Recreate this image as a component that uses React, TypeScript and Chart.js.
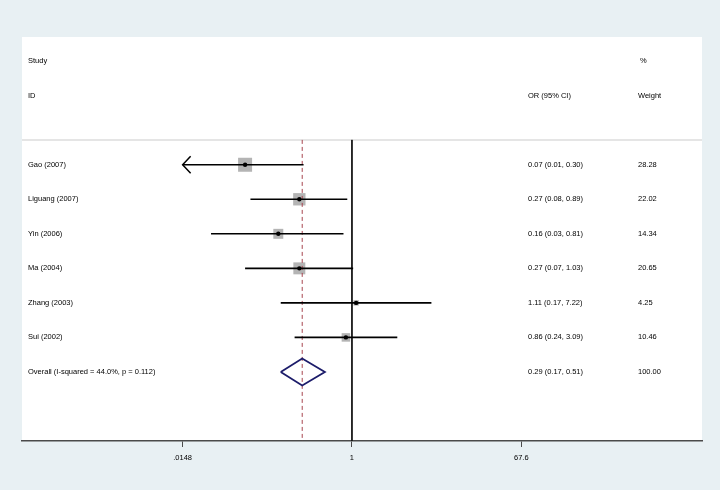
import React, { useEffect, useRef } from 'react';
import { Chart, registerables } from 'chart.js';

Chart.register(...registerables);

// ---- Data ----
const studies = ['Gao (2007)', 'Liguang (2007)', 'Yin (2006)', 'Ma (2004)', 'Zhang (2003)', 'Sui (2002)'];
const oddsRatios = [0.07, 0.27, 0.16, 0.27, 1.11, 0.86];
const ciLower = [0.01, 0.08, 0.03, 0.07, 0.17, 0.24];
const ciUpper = [0.3, 0.89, 0.81, 1.03, 7.22, 3.09];
const weights = [28.28, 22.02, 14.34, 20.65, 4.25, 10.46];

const overallLabel = 'Overall (I-squared = 44.0%, p = 0.112)';
const overallOR = 0.29;
const overallLower = 0.17;
const overallUpper = 0.51;
const overallWeight = 100.0;

const tickValues = [0.0148, 1, 67.6];
const tickLabels = ['.0148', '1', '67.6'];

const headerStudy = ['Study', 'ID'];
const headerEffect = 'OR (95% CI)';
const headerWeight = ['%', 'Weight'];

// ---- Styling / layout constants ----
const FONT = '7.5px "Liberation Sans", Arial, sans-serif';
const TEXT_COLOR = '#000000';
const SQUARE_COLOR = '#b4b4b4';
const DIAMOND_COLOR = '#1c1c6a';
const DASH_COLOR = '#a8454e';
const AXIS_COLOR = '#4a4a4a';

const Y_MIN = -2.7;
const Y_MAX = 9;
const SEP_Y = 0.28;
const overallRow = studies.length + 1;

const fmt = (v: number) => v.toFixed(2);

const forestPlugin = {
  id: 'forestDecor',
  beforeDatasetsDraw(chart: any) {
    const { ctx, chartArea: a, scales } = chart;
    ctx.save();
    ctx.strokeStyle = '#dddddd';
    ctx.lineWidth = 1.5;
    const y = scales.y.getPixelForValue(SEP_Y);
    ctx.beginPath();
    ctx.moveTo(a.left, y);
    ctx.lineTo(a.right, y);
    ctx.stroke();
    ctx.restore();
  },
  beforeDraw(chart: any) {
    const { ctx, chartArea: a } = chart;
    ctx.save();
    ctx.fillStyle = '#ffffff';
    ctx.fillRect(a.left, a.top, a.right - a.left, a.bottom - a.top);
    ctx.restore();
  },
  afterDraw(chart: any) {
    const { ctx, chartArea: a, scales } = chart;
    const xs = scales.x;
    const ys = scales.y;
    ctx.save();
    ctx.font = FONT;
    ctx.fillStyle = TEXT_COLOR;
    ctx.textBaseline = 'middle';
    ctx.textAlign = 'left';
    const xLabel = a.left + 6;
    const xEffect = a.left + 506;
    const xWeight = a.left + 616;

    ctx.fillText(headerStudy[0], xLabel, ys.getPixelForValue(-2));
    ctx.fillText(headerStudy[1], xLabel, ys.getPixelForValue(-1));
    ctx.fillText(headerEffect, xEffect, ys.getPixelForValue(-1));
    ctx.fillText(headerWeight[0], xWeight + 2, ys.getPixelForValue(-2));
    ctx.fillText(headerWeight[1], xWeight, ys.getPixelForValue(-1));

    studies.forEach((s, i) => {
      const y = ys.getPixelForValue(i + 1);
      ctx.fillText(s, xLabel, y);
      ctx.fillText(`${fmt(oddsRatios[i])} (${fmt(ciLower[i])}, ${fmt(ciUpper[i])})`, xEffect, y);
      ctx.fillText(fmt(weights[i]), xWeight, y);
    });
    const yo = ys.getPixelForValue(overallRow);
    ctx.fillText(overallLabel, xLabel, yo);
    ctx.fillText(`${fmt(overallOR)} (${fmt(overallLower)}, ${fmt(overallUpper)})`, xEffect, yo);
    ctx.fillText(fmt(overallWeight), xWeight, yo);

    // arrows for truncated CIs
    ctx.strokeStyle = '#000000';
    ctx.lineWidth = 1.5;
    studies.forEach((_, i) => {
      if (ciLower[i] < tickValues[0]) {
        const x = xs.getPixelForValue(tickValues[0]);
        const y = ys.getPixelForValue(i + 1);
        ctx.beginPath();
        ctx.moveTo(x + 8, y - 8.5);
        ctx.lineTo(x, y);
        ctx.lineTo(x + 8, y + 8.5);
        ctx.stroke();
      }
    });
    ctx.restore();
  },
};

export default function App() {
  const ref = useRef<HTMLCanvasElement | null>(null);

  useEffect(() => {
    document.body.style.margin = '0';
    const canvas = ref.current;
    if (!canvas) return;

    const ciSets = studies.map((_, i) => ({
      type: 'scatter',
      data: [
        { x: Math.max(ciLower[i], tickValues[0]), y: i + 1 },
        { x: ciUpper[i], y: i + 1 },
      ],
      showLine: true,
      borderColor: '#000000',
      borderWidth: 1.6,
      pointRadius: 0,
      order: 2,
    }));

    const chart = new Chart(canvas, {
      type: 'scatter',
      data: {
        datasets: [
          {
            data: oddsRatios.map((v, i) => ({ x: v, y: i + 1 })),
            pointStyle: 'rect',
            pointRadius: weights.map((w) => (14 * Math.sqrt(w / 28.28)) / Math.SQRT2),
            backgroundColor: SQUARE_COLOR,
            borderWidth: 0,
            order: 4,
          },
          {
            data: [
              { x: 1, y: SEP_Y },
              { x: 1, y: Y_MAX },
            ],
            showLine: true,
            borderColor: '#111111',
            borderWidth: 1,
            pointRadius: 0,
            order: 3,
          },
          {
            data: [
              { x: overallOR, y: SEP_Y },
              { x: overallOR, y: Y_MAX },
            ],
            showLine: true,
            borderColor: DASH_COLOR,
            borderWidth: 1,
            borderDash: [4, 3],
            pointRadius: 0,
            order: 3,
          },
          ...(ciSets as any[]),
          {
            data: [
              { x: overallLower, y: overallRow },
              { x: overallOR, y: overallRow - 0.39 },
              { x: overallUpper, y: overallRow },
              { x: overallOR, y: overallRow + 0.39 },
              { x: overallLower, y: overallRow },
            ],
            showLine: true,
            borderColor: DIAMOND_COLOR,
            borderWidth: 1.8,
            borderJoinStyle: 'miter',
            pointRadius: 0,
            order: 2,
          },
          {
            data: oddsRatios.map((v, i) => ({ x: v, y: i + 1 })),
            pointStyle: 'circle',
            pointRadius: 2.2,
            backgroundColor: '#000000',
            borderWidth: 0,
            order: 1,
          },
        ] as any,
      },
      options: {
        animation: false,
        responsive: false,
        events: [],
        layout: { padding: { left: 22, right: 18, top: 37, bottom: 0 } },
        plugins: { legend: { display: false }, tooltip: { enabled: false } },
        scales: {
          x: {
            type: 'logarithmic',
            position: 'bottom',
            min: Math.exp(-8.21),
            max: Math.exp(8.71),
            afterBuildTicks: (s: any) => {
              s.ticks = tickValues.map((v) => ({ value: v }));
            },
            afterFit: (s: any) => {
              s.height = 49;
            },
            ticks: {
              autoSkip: false,
              maxRotation: 0,
              padding: 6,
              color: TEXT_COLOR,
              font: { family: '"Liberation Sans", Arial, sans-serif', size: 7.5 },
              callback: (_v: any, i: number) => tickLabels[i],
            },
            grid: {
              display: true,
              drawOnChartArea: false,
              drawTicks: true,
              tickLength: 6,
              color: AXIS_COLOR,
              lineWidth: 1,
            },
            border: { display: true, color: AXIS_COLOR, width: 1.5 },
          },
          y: {
            type: 'linear',
            reverse: true,
            min: Y_MIN,
            max: Y_MAX,
            display: false,
          },
        },
      } as any,
      plugins: [forestPlugin],
    });

    return () => chart.destroy();
  }, []);

  return (
    <div style={{ width: 720, height: 490, background: '#e8f0f3', position: 'relative' }}>
      <canvas ref={ref} width={720} height={490} style={{ display: 'block' }} />
    </div>
  );
}
